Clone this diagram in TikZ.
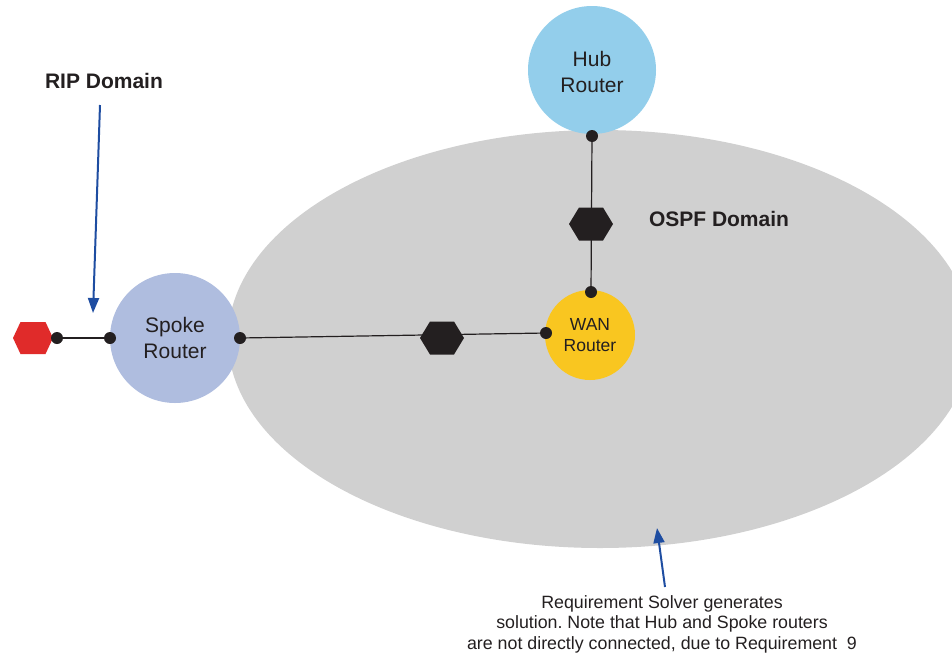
\documentclass[tikz,border=0pt]{standalone}
\usepackage{fontspec}
\setmainfont{Liberation Sans}
\usetikzlibrary{arrows.meta}
\definecolor{ellgray}{HTML}{D0D0D0}
\definecolor{hubc}{HTML}{93CEEB}
\definecolor{spokec}{HTML}{AFBDDF}
\definecolor{wanc}{HTML}{F9C620}
\definecolor{blk}{HTML}{231F20}
\definecolor{redc}{HTML}{E02B2A}
\definecolor{arr}{HTML}{1E4DA1}
\frenchspacing
\newcommand\hexblack[1]{\fill[blk, shift={(#1)}] (-22,0) -- (-12,16.5) -- (12,16.5) -- (22,0) -- (12,-16.5) -- (-12,-16.5) -- cycle;}
\newcommand\hexred[1]{\fill[redc, shift={(#1)}] (-20,0) -- (-12.5,16) -- (12.5,16) -- (20,0) -- (12.5,-16) -- (-12.5,-16) -- cycle;}
\begin{document}
\begin{tikzpicture}[x=1pt,y=1pt,
  router/.style={circle, inner sep=0pt, align=center, text=blk},
  dot/.style={circle, fill=blk, inner sep=0pt, minimum size=12pt},
  link/.style={draw=blk, line width=1.2pt},
  callout/.style={draw=arr, line width=2pt, -{Triangle[length=15pt,width=11pt]}},
  title/.style={font=\fontsize{21}{25}\selectfont\bfseries, text=blk}]
\useasboundingbox (0,0) rectangle (952,-656);
\clip (0,0) rectangle (952,-656);
% OSPF domain
\fill[ellgray] (600,-339) ellipse [x radius=372, y radius=209];
% routers
\node[router, fill=hubc, minimum size=128pt, font=\fontsize{21}{26}\selectfont] (hub) at (592,-70) {\rule{0pt}{19pt}Hub\\Router};
\node[router, fill=spokec, minimum size=130pt, font=\fontsize{21}{26}\selectfont] (spoke) at (175,-338) {Spoke\\Router};
\node[router, fill=wanc, minimum size=90pt, font=\fontsize{17.5}{21.5}\selectfont] (wan) at (590,-335) {WAN\\Router};
% connection points
\coordinate (dhubp) at (592,-136);
\coordinate (dwtp) at (591,-292);
\coordinate (dwlp) at (546,-333);
\coordinate (dsrp) at (240,-338);
\coordinate (dslp) at (110,-338);
\coordinate (drp) at (57,-338);
\coordinate (hx1) at (591,-224);
\coordinate (hx2) at (442,-338);
\coordinate (hxr) at (33,-338);
% links
\draw[link] (dhubp) -- (dwtp);
\draw[link] (dsrp) -- (dwlp);
\draw[link] (drp) -- (dslp);
% hexagons
\hexblack{hx1}
\hexblack{hx2}
\hexred{hxr}
% dots
\node[dot] (dhub) at (dhubp) {};
\node[dot] (dwt) at (dwtp) {};
\node[dot] (dwl) at (dwlp) {};
\node[dot] (dsr) at (dsrp) {};
\node[dot] (dsl) at (dslp) {};
\node[dot] (dr) at (drp) {};
% labels
\node[title] (rip) at (104,-81) {RIP Domain};
\node[title] (ospf) at (719,-219) {OSPF Domain};
\coordinate (ripstart) at (100,-105);
\coordinate (riptip) at (93,-313);
\draw[callout] (ripstart) -- (riptip);
\node[align=center, text=blk, font=\fontsize{17.8}{20.6}\selectfont] (note) at (662,-624)
  {Requirement Solver generates\\solution. Note that Hub and Spoke routers\\are not directly connected, due to Requirement~~9};
\coordinate (notestart) at (665,-587);
\coordinate (notetip) at (657,-528);
\draw[callout] (notestart) -- (notetip);
\end{tikzpicture}
\end{document}
